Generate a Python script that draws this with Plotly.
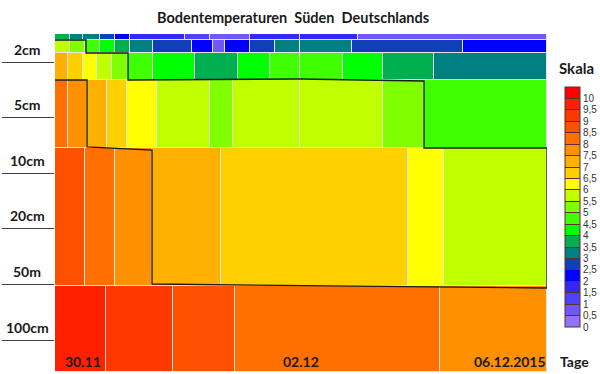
import plotly.graph_objects as go

# Relative position units: x = position along time axis (0..492), y = depth band position (0..338, downwards)
row_y_edges = [0, 6, 19, 46, 114, 252, 338]

rowA_x = [0, 15, 28, 45, 60, 75, 130, 155, 195, 245, 303, 492]
rowA_t = [3.75, 3.25, 3.25, 2.75, 2.25, 1.75, 1.25, 0.75, 1.75, 1.75, 0.75]

rowB_x = [0, 15, 30, 45, 60, 75, 98, 137, 158, 170, 195, 220, 245, 297, 408, 492]
rowB_t = [5.75, 5.25, 4.75, 4.25, 3.75, 3.25, 2.75, 2.25, 0.75, 2.25, 2.75, 3.25, 3.25, 2.75, 2.25]

rowC_x = [0, 13, 28, 42, 57, 73, 98, 140, 183, 215, 245, 288, 328, 379, 492]
rowC_t = [7.25, 6.75, 6.25, 5.75, 5.25, 4.75, 4.25, 3.75, 4.25, 4.75, 4.75, 4.25, 3.75, 3.25]

rowD_x = [0, 13, 32, 52, 72, 102, 155, 178, 245, 328, 369, 492]
rowD_t = [8.25, 7.75, 7.25, 6.75, 6.25, 5.75, 5.25, 5.75, 5.75, 5.25, 4.75]

rowE_x = [0, 30, 60, 97, 166, 353, 389, 492]
rowE_t = [8.75, 8.25, 7.75, 7.25, 6.75, 6.25, 5.75]

rowF_x = [0, 51, 118, 180, 385, 492]
rowF_t = [9.75, 9.25, 8.75, 8.25, 7.75]

rows_x = [rowA_x, rowB_x, rowC_x, rowD_x, rowE_x, rowF_x]
rows_t = [rowA_t, rowB_t, rowC_t, rowD_t, rowE_t, rowF_t]

# isolines
iso1_x = [0, 31, 31, 73, 73, 245, 369, 369, 492, 492]
iso1_y = [6, 6, 19, 19, 46, 45, 47, 114, 114, 254]
iso2_x = [0, 32, 32, 97, 97, 492]
iso2_y = [46, 46, 113, 116, 250, 254]

depth_labels = ["2cm", "5cm", "10cm", "20cm", "50m", "100cm"]
depth_pos = [28, 83, 139, 194, 250, 306]

date_labels = ["30.11", "02.12", "06.12.2015"]
date_pos = [28, 246, 455]

scale_vals = [i * 0.5 for i in range(21)]
scale_text = [("%g" % v).replace(".", ",") for v in scale_vals]
scale_colors = ["#8f74ff", "#7058ff", "#5040ff", "#3028ff", "#0000ff", "#1040b8", "#008080",
                "#00b050", "#00ff00", "#40ff00", "#80ff00", "#c0ff00", "#ffff00", "#ffd000",
                "#ffb000", "#ff9000", "#ff7000", "#ff5000", "#ff3800", "#ff2000", "#ff0000"]

n = len(scale_colors)
cscale = []
for k, c in enumerate(scale_colors):
    cscale.append([k / n, c])
    cscale.append([(k + 1) / n, c])

fig = go.Figure()
for i, (xs, ts) in enumerate(zip(rows_x, rows_t)):
    fig.add_trace(go.Heatmap(
        x=xs, y=[row_y_edges[i], row_y_edges[i + 1]], z=[ts],
        coloraxis="coloraxis", xgap=1, ygap=1, hoverinfo="skip"))

for xs, ys in [(iso1_x, iso1_y), (iso2_x, iso2_y)]:
    fig.add_trace(go.Scatter(x=xs, y=ys, mode="lines",
                             line=dict(color="#1a1a1a", width=1.3),
                             showlegend=False, hoverinfo="skip"))

bold = dict(family="Lato, Open Sans, sans-serif", weight="bold", color="#1a1a1a")

annotations = []
for lab, pos in zip(depth_labels, depth_pos):
    annotations.append(dict(text=lab, xref="paper", yref="y", x=(27 - 55) / 492, y=pos,
                            yshift=13, showarrow=False, xanchor="center", yanchor="middle",
                            font=dict(size=14, **bold)))
for lab, pos in zip(date_labels, date_pos):
    annotations.append(dict(text=lab, xref="x", yref="paper", x=pos, y=(372 - 361) / 338,
                            showarrow=False, xanchor="center", yanchor="middle",
                            font=dict(size=14, **bold)))
annotations.append(dict(text="Tage", xref="paper", yref="paper", x=(574 - 55) / 492,
                        y=(372 - 361) / 338, showarrow=False, xanchor="center",
                        yanchor="middle", font=dict(size=14, **bold)))
annotations.append(dict(text="Skala", xref="paper", yref="paper", x=(576 - 55) / 492,
                        y=(372 - 68) / 338, showarrow=False, xanchor="center",
                        yanchor="middle", font=dict(size=15, **bold)))
annotations.append(dict(text="Bodentemperaturen\u00a0 Süden\u00a0 Deutschlands",
                        xref="paper", yref="paper", x=(293 - 55) / 492, y=(372 - 18) / 338,
                        showarrow=False, xanchor="center", yanchor="middle",
                        font=dict(size=14.5, **bold)))

fig.update_layout(
    width=600, height=374,
    margin=dict(l=55, r=53, t=34, b=2, autoexpand=False),
    paper_bgcolor="white", plot_bgcolor="#e4e4e4",
    showlegend=False,
    annotations=annotations,
    coloraxis=dict(
        colorscale=cscale, cmin=0, cmax=10.5,
        colorbar=dict(
            thickness=15, lenmode="pixels", len=240,
            x=(565 - 55) / 492, xanchor="left", xpad=0,
            y=(372 - 87) / 338, yanchor="top", ypad=0,
            outlinewidth=1, outlinecolor="#5a3030",
            tickvals=scale_vals, ticktext=scale_text,
            ticks="inside", ticklen=15, tickcolor="#5a3030", tickwidth=1,
            tickfont=dict(family="Arial, Liberation Sans, sans-serif", size=10, color="#333333"),
        ),
    ),
    xaxis=dict(range=[0, 492], showgrid=False, zeroline=False, showline=False,
               showticklabels=False, ticks="", automargin=False),
    yaxis=dict(range=[338, 0], showgrid=False, zeroline=False, showline=False,
               tickvals=depth_pos, ticks="outside", ticklen=52, tickwidth=1,
               tickcolor="#404040", showticklabels=False, automargin=False),
)

fig.write_html("out.html", config={"displayModeBar": False},
               post_script="document.body.style.margin='0';")
